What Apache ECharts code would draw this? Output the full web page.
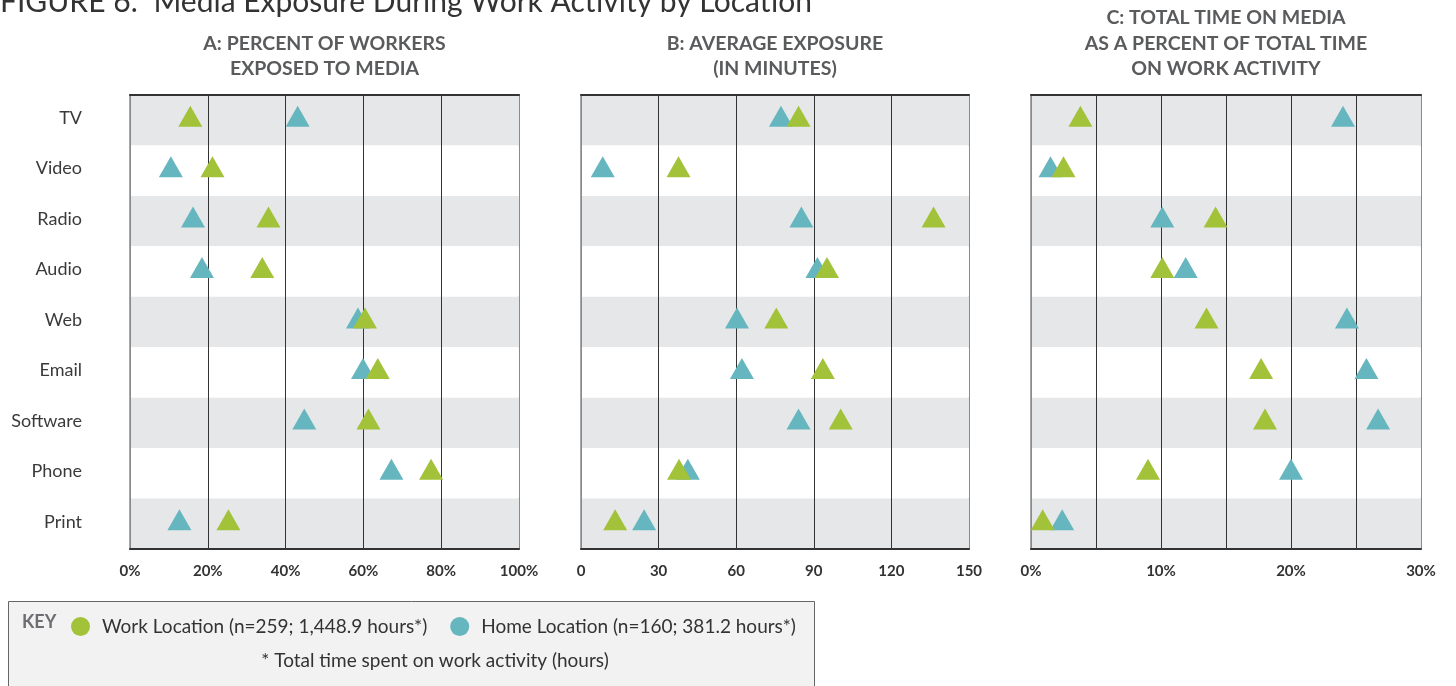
<!DOCTYPE html>
<html><head><meta charset="utf-8">
<script src="https://cdn.jsdelivr.net/npm/echarts@6/dist/echarts.min.js"></script>
<style>html,body{margin:0;padding:0;background:#fff;}#c{width:1456px;height:686px;}</style>
</head><body><div id="c"></div>
<script>
const categories = ['TV','Video','Radio','Audio','Web','Email','Software','Phone','Print'];
const seriesNames = ['Work Location (n=259; 1,448.9 hours*)','Home Location (n=160; 381.2 hours*)'];
const seriesColors = ['#a2c23a','#66b6c0'];
// Panel A: percent of workers exposed to media (%)
const workPct = [15.5,21.2,35.6,34.0,60.4,63.7,61.3,77.4,25.3];
const homePct = [43.1,10.5,16.2,18.5,58.6,59.9,44.8,67.2,12.7];
// Panel B: average exposure (minutes)
const workMin = [84.1,37.7,136.3,95.1,75.5,93.5,100.4,37.9,13.2];
const homeMin = [77.3,8.4,85.2,91.4,60.3,62.2,84.1,41.3,24.4];
// Panel C: total time on media as % of total time on work activity
const workShare = [3.8,2.5,14.2,10.1,13.5,17.7,18.0,9.0,0.9];
const homeShare = [24.0,1.5,10.1,11.9,24.3,25.8,26.7,20.0,2.4];

const mainTitle = 'FIGURE 6:  Media Exposure During Work Activity by Location';
const panelTitles = [
  ['A: PERCENT OF WORKERS','EXPOSED TO MEDIA'],
  ['B: AVERAGE EXPOSURE','(IN MINUTES)'],
  ['C: TOTAL TIME ON MEDIA','AS A PERCENT OF TOTAL TIME','ON WORK ACTIVITY']
];
const panelData = [[workPct, homePct],[workMin, homeMin],[workShare, homeShare]];
const axisSpecs = [
  {min:0, max:100, interval:20, fmt: v => v + '%'},
  {min:0, max:150, interval:30, fmt: v => String(v)},
  {min:0, max:30, interval:5, fmt: v => (v % 10 === 0 ? v + '%' : '')}
];
const keyLabel = 'KEY';
const footnote = '* Total time spent on work activity (hours)';

const FONT = 'Lato, "Open Sans", sans-serif';
const gridLefts = [130, 581, 1031];
const gridWidths = [389, 388, 390];
const gridTop = 95, gridHeight = 454;

const grids = [], xAxes = [], yAxes = [], series = [], graphics = [];
gridLefts.forEach((left, g) => {
  grids.push({left: left, top: gridTop, width: gridWidths[g], height: gridHeight,
    show: true, borderColor: '#8a8a8a', borderWidth: 1.5, backgroundColor: 'transparent'});
  const spec = axisSpecs[g];
  const nLines = Math.round((spec.max - spec.min) / spec.interval) + 1;
  const lineColors = [];
  for (let i = 0; i < nLines; i++) lineColors.push(i === 0 || i === nLines - 1 ? '#8a8a8a' : '#333');
  xAxes.push({type: 'value', gridIndex: g, position: 'bottom', min: spec.min, max: spec.max, interval: spec.interval,
    axisLine: {show: true, onZero: false, lineStyle: {color: '#333', width: 2}},
    axisTick: {show: false},
    splitLine: {show: true, lineStyle: {color: lineColors, width: 1}},
    axisLabel: {formatter: spec.fmt, fontFamily: FONT, fontWeight: 'bold', fontSize: 15, color: '#333', margin: 15}
  });
  xAxes.push({type: 'value', gridIndex: g, position: 'top', min: spec.min, max: spec.max, interval: spec.interval,
    axisLine: {show: true, onZero: false, lineStyle: {color: '#333', width: 2}},
    axisTick: {show: false}, splitLine: {show: false}, axisLabel: {show: false}
  });
  yAxes.push({type: 'category', gridIndex: g, data: categories, inverse: true,
    axisLine: {show: false}, axisTick: {show: false},
    splitArea: {show: true, areaStyle: {color: ['#e6e7e8', '#ffffff']}},
    axisLabel: {show: g === 0, margin: 48, formatter: v => '{c|' + v + '}',
      rich: {c: {fontFamily: FONT, fontSize: 18, color: '#3a3a3a', padding: [0, 0, 4, 0]}}}
  });
  // draw home first, work on top
  [1, 0].forEach(s => {
    series.push({type: 'scatter', name: seriesNames[s], xAxisIndex: g * 2, yAxisIndex: g,
      symbol: 'triangle', symbolSize: [24, 21], symbolOffset: [0, -4],
      itemStyle: {color: seriesColors[s], opacity: 1},
      emphasis: {disabled: true},
      data: categories.map((c, i) => [panelData[g][s][i], c])
    });
  });
  const lines = panelTitles[g];
  lines.forEach((t, k) => {
    const y = 69 - (lines.length - 1 - k) * 25.5;
    graphics.push({type: 'text', x: left + gridWidths[g] / 2, y: y, z: 5,
      style: {text: t, fontFamily: FONT, fontWeight: 'bold', fontSize: 19.5, fill: '#5a5b5d', align: 'center', verticalAlign: 'middle'}});
  });
});

graphics.push({type: 'text', x: 0, y: 2, z: 5,
  style: {text: mainTitle, fontFamily: FONT, fontSize: 30, fill: '#333', align: 'left', verticalAlign: 'middle'}});
graphics.push({type: 'rect', z: 0, shape: {x: 8.5, y: 601.5, width: 806, height: 95},
  style: {fill: '#f2f2f2', stroke: '#666', lineWidth: 1}});
graphics.push({type: 'text', x: 22, y: 622, z: 5,
  style: {text: keyLabel, fontFamily: FONT, fontWeight: 'bold', fontSize: 18, fill: '#6d6e71', align: 'left', verticalAlign: 'middle'}});
graphics.push({type: 'text', x: 435, y: 661, z: 5,
  style: {text: footnote, fontFamily: FONT, fontSize: 19, fill: '#333', align: 'center', verticalAlign: 'middle'}});

const chart = echarts.init(document.getElementById('c'), null, {renderer: 'canvas'});
chart.setOption({
  animation: false,
  backgroundColor: '#ffffff',
  grid: grids, xAxis: xAxes, yAxis: yAxes, series: series,
  legend: {data: seriesNames, left: 66, top: 612, icon: 'circle', itemWidth: 19, itemHeight: 19, itemGap: 23,
    selectedMode: false, z: 10,
    textStyle: {fontFamily: FONT, fontSize: 19, color: '#333', padding: [0, 0, 0, 7]}},
  graphic: graphics
});
</script></body></html>
